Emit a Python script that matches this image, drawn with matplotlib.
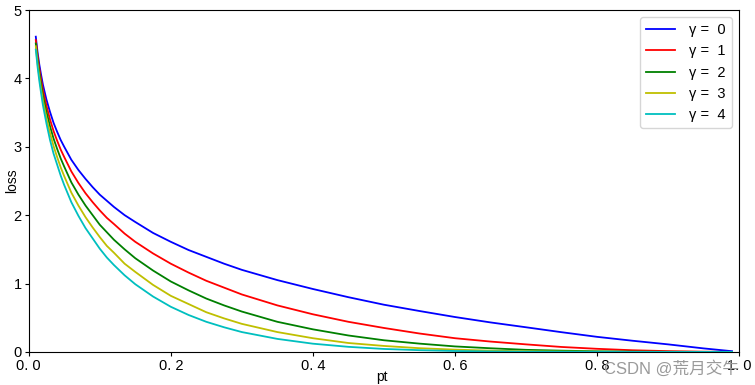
import numpy as np
from matplotlib import pyplot as plt

plt.rcParams['font.family'] = ['Liberation Sans', 'Noto Sans CJK SC', 'DejaVu Sans']
plt.rcParams['axes.unicode_minus'] = False

# pt values and loss
pt = [0.01, 0.0125, 0.015, 0.0175, 0.02, 0.025, 0.03, 0.035, 0.04, 0.045,
      0.05, 0.06, 0.07, 0.08, 0.09, 0.10, 0.11, 0.12, 0.135, 0.15, 0.175,
      0.20, 0.225, 0.25, 0.275, 0.30, 0.35, 0.40, 0.45, 0.50, 0.55, 0.60,
      0.65, 0.70, 0.75, 0.80, 0.85, 0.90, 0.95, 0.99]
loss_g0 = [4.61, 4.38, 4.20, 4.05, 3.91, 3.69, 3.51, 3.35, 3.22, 3.10,
           3.00, 2.81, 2.66, 2.53, 2.41, 2.30, 2.21, 2.12, 2.00, 1.90, 1.74,
           1.61, 1.49, 1.39, 1.29, 1.20, 1.05, 0.92, 0.80, 0.69, 0.598, 0.51,
           0.431, 0.36, 0.288, 0.22, 0.163, 0.11, 0.051, 0.01]
loss_g1 = [4.56, 4.33, 4.14, 3.98, 3.83, 3.60, 3.40, 3.23, 3.09, 2.96,
           2.85, 2.64, 2.47, 2.32, 2.19, 2.07, 1.96, 1.87, 1.73, 1.61, 1.44,
           1.29, 1.16, 1.04, 0.94, 0.84, 0.68, 0.55, 0.44, 0.35, 0.269, 0.20,
           0.151, 0.11, 0.072, 0.045, 0.024, 0.011, 0.0026, 0.0001]
loss_g2 = [4.51, 4.27, 4.08, 3.91, 3.75, 3.51, 3.30, 3.12, 2.97, 2.83,
           2.71, 2.48, 2.30, 2.14, 2.00, 1.86, 1.75, 1.64, 1.50, 1.37, 1.19,
           1.03, 0.90, 0.78, 0.68, 0.59, 0.44, 0.33, 0.24, 0.17, 0.121, 0.08,
           0.053, 0.03, 0.018, 0.009, 0.0037, 0.001, 0.0001, 0.0]
loss_g3 = [4.47, 4.22, 4.02, 3.84, 3.68, 3.42, 3.20, 3.01, 2.85, 2.70,
           2.57, 2.33, 2.14, 1.97, 1.82, 1.68, 1.55, 1.45, 1.29, 1.17, 0.98,
           0.82, 0.70, 0.58, 0.49, 0.41, 0.29, 0.20, 0.13, 0.087, 0.054, 0.033,
           0.018, 0.010, 0.0045, 0.002, 0.0005, 0.0001, 0.0, 0.0]
loss_g4 = [4.42, 4.17, 3.96, 3.78, 3.61, 3.34, 3.10, 2.90, 2.74, 2.58,
           2.44, 2.19, 1.99, 1.81, 1.66, 1.51, 1.38, 1.27, 1.12, 0.99, 0.81,
           0.66, 0.54, 0.44, 0.36, 0.29, 0.19, 0.12, 0.074, 0.043, 0.025, 0.013,
           0.0065, 0.003, 0.0011, 0.0004, 0.0001, 0.0, 0.0, 0.0]
series = [loss_g0, loss_g1, loss_g2, loss_g3, loss_g4]
labels = ['γ =  0', 'γ =  1', 'γ =  2', 'γ =  3', 'γ =  4']
colors = ['b', 'r', 'g', 'y', 'c']

fig = plt.figure(figsize=(7.55, 3.85), dpi=100)
ax = fig.add_axes([0.038, 0.086, 0.941, 0.888])
for y, lab, c in zip(series, labels, colors):
    ax.plot(pt, y, color=c, label=lab, linewidth=1.3)

ax.set_xlim(0, 1)
ax.set_ylim(0, 5)
ax.set_xticks([0.0, 0.2, 0.4, 0.6, 0.8, 1.0])
ax.set_xticklabels(['0. 0', '0. 2', '0. 4', '0. 6', '0. 8', '1. 0'])
ax.tick_params(labelsize=10.5, pad=2, length=3)
ax.set_xlabel('pt', fontsize=10)
ax.set_ylabel('loss', fontsize=10)
ax.xaxis.set_label_coords(0.497, -0.052)
ax.yaxis.set_label_coords(-0.013, 0.5)
ax.legend(loc='upper right', fontsize=10.5, handlelength=2.0, handletextpad=1.0)

fig.text(0.80, 0.03, 'CSDN @荒月交牛', fontsize=12, color='#9a9a9a')

plt.savefig('out.png')
